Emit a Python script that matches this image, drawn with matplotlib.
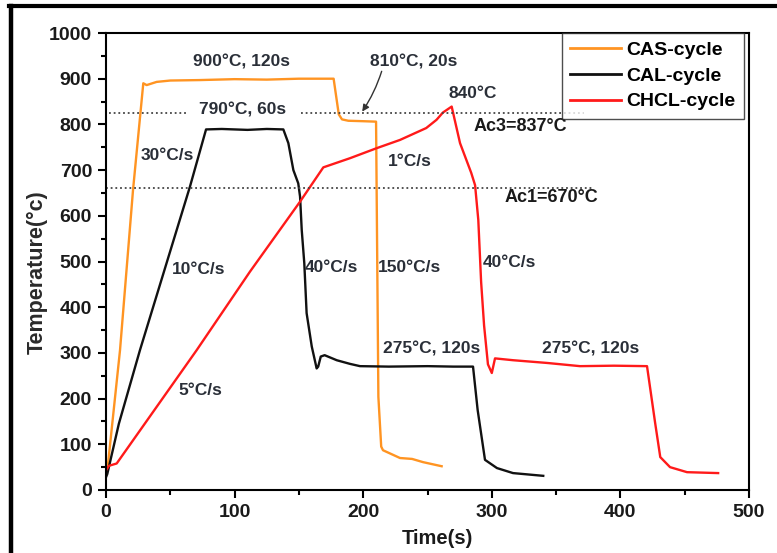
import matplotlib
matplotlib.use("Agg")
import matplotlib.pyplot as plt
from matplotlib.lines import Line2D

plt.rcParams['font.family'] = ['Liberation Sans', 'DejaVu Sans']

# ---------------- data ----------------
cas_t = [0, 1.5, 10.9, 21, 29, 31.6, 39.4, 50, 73, 100, 125, 150, 177, 181, 183.5, 188.4, 200, 210, 211.8, 214,
         215.4, 228.6, 238, 246.5, 261]
cas_T = [40, 55, 306, 656, 890, 886, 893, 896, 897, 899, 898, 900, 900, 822, 811, 808, 807, 806, 204, 95,
         87, 70, 68, 61, 52]

cal_t = [0, 1, 10, 26.4, 65.3, 77.8, 90, 110, 125, 137.9, 141.8, 145.7, 149.5, 150.9, 152.2, 154.2, 156, 160,
         163.8, 165, 167, 170, 179.4, 189.7, 197.5, 220, 250, 270, 285.4, 289, 294.7, 304, 316.5, 340]
cal_T = [28, 35, 145, 306, 664, 789, 790, 788, 790, 789, 759, 700, 671, 642, 569, 496, 387, 314,
         266, 270, 292, 295, 284, 276, 271, 270, 271, 270, 270, 175, 66, 48, 37, 31]

chcl_t = [0, 2.3, 8.3, 70.5, 112, 150.9, 169, 189.7, 210.5, 228.6, 249, 257, 262, 268.8, 275.3, 284, 287,
          289.5, 291.7, 294, 297, 300, 302.5, 316.5, 343, 368.6, 395, 420.7, 427, 431, 438.6, 451.8, 476]
chcl_T = [43, 53, 58, 306, 478, 631, 706, 726, 748, 766, 792, 810, 826, 839, 759, 694, 667,
          591, 455, 360, 275, 256, 288, 284, 278, 271, 272, 271, 147, 72, 50, 39, 37]

series_names = ['CAS-cycle', 'CAL-cycle', 'CHCL-cycle']
series_colors = ['#FF9422', '#111111', '#FF1A1A']

ac3_segments = [(2, 63), (152, 372)]
ac3_level = 826
ac1_segment = (0, 378)
ac1_level = 661

annotations = [
    ("900°C, 120s", 105.4, 937, False),
    ("810°C, 20s", 239, 936, False),
    ("790°C, 60s", 106, 831, False),
    ("840°C", 285, 868, False),
    ("Ac3=837°C", 322.5, 795, True),
    ("30°C/s", 47.8, 731, False),
    ("1°C/s", 236, 719, False),
    ("Ac1=670°C", 346, 640, True),
    ("10°C/s", 72, 482, False),
    ("40°C/s", 175, 486, False),
    ("150°C/s", 236, 486, False),
    ("40°C/s", 314, 497, False),
    ("275°C, 120s", 253, 308, False),
    ("275°C, 120s", 377, 308, False),
    ("5°C/s", 73, 217, False),
]
arrow_tail = (215, 922)
arrow_tip = (198, 823)

xticks = [0, 100, 200, 300, 400, 500]
yticks = [0, 100, 200, 300, 400, 500, 600, 700, 800, 900, 1000]

# ---------------- figure ----------------
W, H = 777, 553
fig = plt.figure(figsize=(W / 100, H / 100), dpi=100)
ax = fig.add_axes([106 / W, 1 - 490 / H, (749 - 106) / W, (490 - 33) / H])

for t, T, c, n in zip([cas_t, cal_t, chcl_t], [cas_T, cal_T, chcl_T], series_colors, series_names):
    ax.plot(t, T, color=c, lw=1.7, label=n, solid_joinstyle='round')

dot = (0, (1.0, 1.6))
for a, b in ac3_segments:
    ax.plot([a, b], [ac3_level, ac3_level], color='#444444', lw=1.3, linestyle=dot)
ax.plot(list(ac1_segment), [ac1_level, ac1_level], color='#444444', lw=1.3, linestyle=dot)

txtcolor = '#2a2f38'
for s, x, y, bold in annotations:
    ax.text(x, y, s, ha='center', va='center', fontsize=12.5 if not bold else 13,
            fontweight='bold', color=txtcolor if not bold else '#1a1a1a')

ax.annotate('', xy=arrow_tip, xytext=arrow_tail,
            arrowprops=dict(arrowstyle='-|>', color='#333333', lw=1.0, mutation_scale=10,
                            connectionstyle='arc3,rad=-0.08'))

ax.set_xlim(0, 500)
ax.set_ylim(0, 1000)
ax.set_xticks(xticks)
ax.set_yticks(yticks)
ax.set_xticks([50, 150, 250, 350, 450], minor=True)
ax.set_yticks([50, 150, 250, 350, 450, 550, 650, 750, 850, 950], minor=True)
ax.tick_params(which='major', direction='out', length=6, width=1.5, labelsize=14, pad=4)
ax.tick_params(which='minor', direction='out', length=3.5, width=1.5)
for lab in ax.get_xticklabels() + ax.get_yticklabels():
    lab.set_fontweight('bold')
    lab.set_color('#1a1a1a')
for sp in ax.spines.values():
    sp.set_linewidth(1.5)

fig.text(37 / W, 1 - 272 / H, 'Temperature(°c)', rotation=90, ha='center', va='center',
         fontsize=15.5, fontweight='bold', color='#2a2a2a')
fig.text(437 / W, 1 - 538 / H, 'Time(s)', ha='center', va='center', fontsize=14.5,
         fontweight='bold', color='#1a1a1a')

leg = ax.legend(loc='upper left', bbox_to_anchor=(562 / W, 1 - 33 / H), bbox_transform=fig.transFigure,
                borderaxespad=0, fancybox=False, frameon=True, edgecolor='#222222',
                handlelength=2.6, handletextpad=0.3, labelspacing=0.42, borderpad=0.42,
                prop={'size': 14, 'weight': 'bold'})
leg.get_frame().set_linewidth(1.0)
for h in leg.get_lines():
    h.set_linewidth(2.0)

# outer frame (left and top edges visible)
fig.add_artist(Line2D([10.5 / W, 10.5 / W], [0, 1 - 6 / H], transform=fig.transFigure, color='black', lw=3.2))
fig.add_artist(Line2D([9 / W, 1], [1 - 6 / H, 1 - 6 / H], transform=fig.transFigure, color='black', lw=3.0))

fig.savefig('out.png', dpi=100)
